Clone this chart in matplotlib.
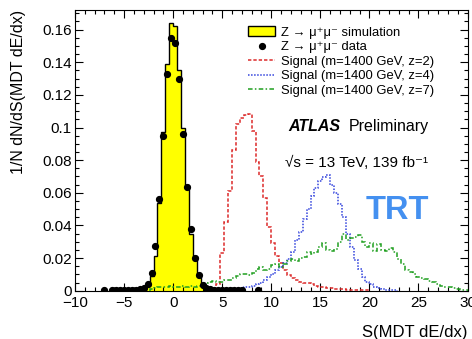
import numpy as np
import matplotlib
matplotlib.use("Agg")
import matplotlib.pyplot as plt
import matplotlib.patches as mpatches
from matplotlib.ticker import MultipleLocator, FuncFormatter

plt.rcParams['font.family'] = ['Liberation Sans', 'DejaVu Sans']

# Z -> mumu simulation, 0.4 wide bins starting at sim_start
sim_start = -3.6
sim_width = 0.4
sim_vals = [0.0005, 0.0012, 0.003, 0.009, 0.021, 0.0535, 0.097, 0.139, 0.164,
            0.162, 0.135, 0.0996, 0.065, 0.035, 0.021, 0.0085, 0.004, 0.0015]

# Z -> mumu data (bin centres)
data_x = [-7.0, -6.2, -5.8, -5.4, -5.0, -4.6, -4.2, -3.8, -3.4, -3.0, -2.6, -2.2,
          -1.8, -1.4, -1.0, -0.6, -0.2, 0.2, 0.6, 1.0, 1.4, 1.8, 2.2, 2.6, 3.0,
          3.4, 3.8, 4.2, 4.6, 5.0, 5.4, 5.8, 6.2, 6.6, 7.0, 8.6]
data_y = [0.0003, 0.0003, 0.0003, 0.0003, 0.0004, 0.0004, 0.0004, 0.0005, 0.0008,
          0.0015, 0.004, 0.011, 0.0275, 0.0563, 0.095, 0.133, 0.155, 0.152, 0.1295,
          0.0963, 0.0635, 0.038, 0.0198, 0.0096, 0.0035, 0.0015, 0.0008, 0.0005,
          0.0004, 0.0003, 0.0003, 0.0003, 0.0003, 0.0003, 0.0003, 0.0003]

# signal m=1400 GeV, z=2
z2_start = 3.2
z2_vals = [0.0005, 0.001, 0.0015, 0.004, 0.023, 0.042, 0.061, 0.086, 0.102, 0.106,
           0.1075, 0.1085, 0.098, 0.079, 0.0705, 0.057, 0.039, 0.029, 0.021, 0.017,
           0.0126, 0.0095, 0.0075, 0.0065, 0.0055, 0.005, 0.0045, 0.004, 0.003,
           0.0025, 0.002, 0.0018, 0.0015, 0.0012, 0.001, 0.0008, 0.0007, 0.0005,
           0.0004, 0.0003, 0.0003, 0.0002]

# signal m=1400 GeV, z=4
z4_start = 4.4
z4_vals = [0.0004, 0.0006, 0.0008, 0.001, 0.0012, 0.0014, 0.0016, 0.002, 0.0025,
           0.003, 0.004, 0.005, 0.0065, 0.0085, 0.0105, 0.0125, 0.0146, 0.017,
           0.0195, 0.024, 0.031, 0.036, 0.044, 0.050, 0.058, 0.063, 0.067, 0.0695,
           0.0712, 0.065, 0.060, 0.053, 0.045, 0.035, 0.027, 0.019, 0.013, 0.0085,
           0.0055, 0.0038, 0.0025, 0.0015, 0.001, 0.0006, 0.0004, 0.0002]

# signal m=1400 GeV, z=7
z7_start = -2.4
z7_vals = [0.0008, 0.0015, 0.002, 0.0025, 0.002, 0.0028, 0.002, 0.0025, 0.003, 0.002,
           0.0028, 0.0025, 0.003, 0.004, 0.0045, 0.0055, 0.006, 0.0055, 0.0055,
           0.0065, 0.0065, 0.0075, 0.009, 0.0105, 0.0105, 0.0095, 0.011, 0.0135,
           0.0145, 0.0128, 0.0135, 0.016, 0.0165, 0.0146, 0.0165, 0.018, 0.0195,
           0.0185, 0.020, 0.0207, 0.0235, 0.0225, 0.024, 0.027, 0.0295, 0.025,
           0.0245, 0.0255, 0.030, 0.035, 0.031, 0.0325, 0.033, 0.034, 0.030, 0.0265,
           0.029, 0.0245, 0.0285, 0.025, 0.0245, 0.026, 0.0235, 0.0195, 0.0165,
           0.0128, 0.0115, 0.0100, 0.0085, 0.0078, 0.007, 0.006, 0.0055, 0.004,
           0.003, 0.0025, 0.002, 0.0015, 0.001, 0.0006, 0.0004]
sig_width = 0.4

labels = ["Z \u2192 \u03bc\u207a\u03bc\u207b simulation",
          "Z \u2192 \u03bc\u207a\u03bc\u207b data",
          "Signal (m=1400 GeV, z=2)",
          "Signal (m=1400 GeV, z=4)",
          "Signal (m=1400 GeV, z=7)"]


def edges(start, width, vals):
    return start + width * np.arange(len(vals) + 1)


W, H = 472, 339
fig = plt.figure(figsize=(W / 100, H / 100), dpi=100)
ax = fig.add_axes([75 / W, 1 - 290.7 / H, (467.5 - 75) / W, (290.7 - 10) / H])

ax.stairs(sim_vals, edges(sim_start, sim_width, sim_vals), fill=True,
          facecolor='#ffff00', edgecolor='none', zorder=1)
h2 = ax.stairs(z2_vals, edges(z2_start, sig_width, z2_vals), color='#dc2a2a',
               lw=1.1, ls=(0, (2.2, 1.3)), zorder=3)
h4 = ax.stairs(z4_vals, edges(z4_start, sig_width, z4_vals), color='#3344dd',
               lw=1.1, ls=(0, (1, 1)), zorder=3)
h7 = ax.stairs(z7_vals, edges(z7_start, sig_width, z7_vals), color='#1f9f1f',
               lw=1.1, ls=(0, (3, 1.5, 1, 1.5)), zorder=3)
ax.stairs(sim_vals, edges(sim_start, sim_width, sim_vals), color='black',
          lw=1.0, zorder=4)
h_data, = ax.plot(data_x, data_y, 'o', color='black', ms=4.2, zorder=5)

# legend handle for the simulation: yellow box with black frame
h_sim_leg = mpatches.Patch(facecolor='#ffff00', edgecolor='black', lw=1.0)

ax.set_xlim(-10, 30)
ax.set_ylim(0, 0.172)

ax.xaxis.set_major_locator(MultipleLocator(5))
ax.xaxis.set_minor_locator(MultipleLocator(1))
ax.yaxis.set_major_locator(MultipleLocator(0.02))
ax.yaxis.set_minor_locator(MultipleLocator(0.005))
ax.xaxis.set_major_formatter(FuncFormatter(lambda v, p: ('%g' % v).replace('-', '\u2212')))
ax.yaxis.set_major_formatter(FuncFormatter(lambda v, p: '%g' % round(v, 4)))
ax.tick_params(which='both', direction='in', top=True, right=True, width=0.8,
               labelsize=11)
ax.tick_params(which='major', length=6)
ax.tick_params(which='minor', length=3)
ax.tick_params(axis='y', pad=2.5)
ax.tick_params(axis='x', pad=3.5)
for s in ax.spines.values():
    s.set_linewidth(0.8)

ax.set_xlabel("S(MDT dE/dx)", fontsize=12, loc='right')
ax.xaxis.set_label_coords(1.0, -(325 - 290.7) / (290.7 - 10))
ax.set_ylabel("1/N dN/dS(MDT dE/dx)", fontsize=11.5, loc='top')
ax.yaxis.set_label_coords(-(75 - 26) / (467.5 - 75), 1.0)

fig.legend([h_sim_leg, h_data, h2, h4, h7], labels,
           loc='upper left', bbox_to_anchor=(248 / W, 1 - 26.5 / H),
           frameon=False, fontsize=9.4, borderpad=0, borderaxespad=0,
           handlelength=2.1, handleheight=0.75, handletextpad=0.45,
           labelspacing=0.17)

fig.text(288 / W, 1 - 126.7 / H, "ATLAS", fontsize=11.5, fontweight='bold',
         fontstyle='italic', va='center', ha='left')
fig.text(348.5 / W, 1 - 126.7 / H, "Preliminary", fontsize=11.5,
         va='center', ha='left')
fig.text(285 / W, 1 - 163 / H, "\u221as = 13 TeV, 139 fb\u207b\u00b9",
         fontsize=11, va='center', ha='left')
fig.text(397.5 / W, 1 - 210.5 / H, "TRT", fontsize=23.5, fontweight='bold',
         color='#4490f0', va='center', ha='center')

fig.savefig('out.png', dpi=100)
